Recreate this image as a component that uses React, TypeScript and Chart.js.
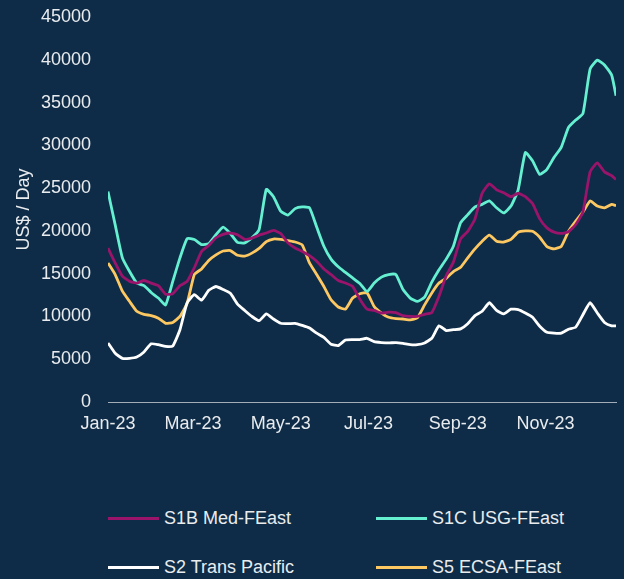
import React, { useEffect, useRef } from "react";
import { Chart, registerables } from "chart.js";

Chart.register(...registerables);

// Days since 1 Jan 2023
const dayOffsets = [
  0, 5, 10, 15, 20, 25, 30, 35, 40, 45, 50, 55, 60, 65, 70, 75, 80, 85, 90, 95,
  100, 105, 110, 115, 120, 125, 130, 135, 140, 145, 150, 155, 160, 165, 170, 175,
  180, 185, 190, 195, 200, 205, 210, 215, 220, 225, 230, 235, 240, 245, 250, 255,
  260, 265, 270, 275, 280, 285, 290, 295, 300, 305, 310, 315, 320, 325, 330, 335,
  340, 345, 350, 353,
];

const s1bMedFEast = [
  18000, 16250, 14700, 14100, 13900, 14200, 13900, 13600, 12600, 12650, 13600, 14100,
  15700, 17600, 18300, 19200, 19600, 19750, 19550, 19000, 19150, 19500, 19750, 20050,
  19700, 18600, 18000, 17600, 17100, 16450, 15550, 14900, 14200, 13900, 13500, 12000,
  10850, 10700, 10400, 10500, 10450, 10100, 10000, 10000, 10250, 10450, 12350, 14750,
  16350, 19050, 19950, 21400, 24400, 25500, 24800, 24450, 24000, 24400, 24000, 23200,
  21400, 20350, 19850, 19700, 19900, 20750, 22200, 26900, 27950, 26900, 26450, 26000,
];

const s1cUsgFEast = [
  24600, 20700, 16850, 15250, 13900, 13600, 12800, 12150, 11350, 14100, 16850, 19100,
  19000, 18400, 18500, 19550, 20450, 19700, 18650, 18600, 19200, 20150, 24850, 24000,
  22300, 21850, 22600, 22800, 22700, 20450, 18200, 16700, 15800, 15150, 14500, 13850,
  12900, 13900, 14600, 14900, 14900, 13150, 12150, 11750, 12250, 14000, 15450, 16700,
  18200, 20950, 21900, 22800, 23100, 23500, 22700, 22100, 22900, 24800, 29150, 28200,
  26600, 27200, 28600, 29800, 32100, 32950, 33700, 38900, 39950, 39400, 38200, 35800,
];

const s2TransPacific = [
  6900, 5700, 5100, 5100, 5250, 5850, 6800, 6700, 6500, 6550, 8450, 11600,
  12550, 11900, 13050, 13500, 13150, 12700, 11450, 10700, 10000, 9500, 10300, 9700,
  9200, 9150, 9200, 8950, 8650, 8050, 7550, 6750, 6600, 7250, 7300, 7300,
  7450, 7050, 6950, 6900, 6950, 6850, 6700, 6700, 6900, 7450, 8900, 8350,
  8450, 8550, 9150, 10100, 10600, 11600, 10700, 10300, 10850, 10800, 10400, 9900,
  8850, 8150, 8050, 8050, 8500, 8750, 10200, 11600, 10400, 9300, 8900, 8900,
];

const s5EcsaFEast = [
  16250, 14900, 12950, 11750, 10600, 10250, 10100, 9800, 9200, 9300, 10000, 11550,
  14900, 15550, 16550, 17200, 17650, 17700, 17150, 17050, 17400, 17950, 18750, 19050,
  19000, 18850, 18700, 18350, 16250, 14900, 13500, 11950, 11100, 10850, 12150, 12650,
  12750, 11150, 10400, 9900, 9750, 9700, 9600, 9850, 11350, 12750, 13900, 14450,
  15250, 15750, 16850, 17900, 18800, 19500, 18800, 18700, 19000, 19850, 20000, 19950,
  19250, 18150, 17900, 18200, 19950, 21150, 22200, 23500, 22900, 22700, 23100, 22950,
];

const tickDays = [0, 59, 120, 181, 243, 304];
const tickLabels = ["Jan-23", "Mar-23", "May-23", "Jul-23", "Sep-23", "Nov-23"];

const seriesNames = ["S1B Med-FEast", "S1C USG-FEast", "S2 Trans Pacific", "S5 ECSA-FEast"];
const seriesColors = ["#9a146c", "#66f0d2", "#ffffff", "#fdc862"];

const BG = "#0e2c47";
const TEXT = "#e9ecef";
const FONT = "'Liberation Sans', Arial, sans-serif";

export default function App() {
  const ref = useRef<HTMLCanvasElement>(null);

  useEffect(() => {
    document.body.style.margin = "0";
    document.body.style.background = BG;
    const canvas = ref.current;
    if (!canvas) return;
    const seriesValues = [s1bMedFEast, s1cUsgFEast, s2TransPacific, s5EcsaFEast];
    const toPoints = (vals: number[]) => dayOffsets.map((d, i) => ({ x: d, y: vals[i] }));
    const font = { family: FONT, size: 18 };
    const chart = new Chart(canvas, {
      type: "line",
      data: {
        datasets: seriesValues.map((vals, i) => ({
          label: seriesNames[i],
          data: toPoints(vals),
          borderColor: seriesColors[i],
          backgroundColor: seriesColors[i],
        })),
      },
      options: {
        responsive: false,
        animation: false,
        layout: { padding: { left: 0, right: 8, top: 17, bottom: 0 } },
        plugins: { legend: { display: false }, tooltip: { enabled: false } },
        elements: {
          point: { radius: 0 },
          line: { borderWidth: 2.8, tension: 0.15 },
        },
        scales: {
          x: {
            type: "linear",
            min: 0,
            max: 353,
            grid: { display: false, drawTicks: false },
            border: { display: true, color: "#a3adb8", width: 1 },
            ticks: {
              color: TEXT,
              font,
              padding: 11,
              autoSkip: false,
              maxRotation: 0,
              callback: (v: any) => {
                const idx = tickDays.indexOf(Number(v));
                return idx >= 0 ? tickLabels[idx] : "";
              },
            },
            afterBuildTicks: (s: any) => {
              s.ticks = tickDays.map((v) => ({ value: v }));
            },
            afterFit: (s: any) => {
              s.height = 40;
              s.paddingLeft = 0;
              s.paddingRight = 0;
            },
          },
          y: {
            min: 0,
            max: 45000,
            ticks: {
              stepSize: 5000,
              color: TEXT,
              font,
              padding: 17,
              callback: (v: any) => String(v),
            },
            grid: { display: false, drawTicks: false },
            border: { display: false },
            title: {
              display: true,
              text: "US$ / Day",
              color: TEXT,
              font,
              padding: { top: 13, bottom: 0 },
            },
            afterFit: (s: any) => {
              s.width = 108;
              s.paddingTop = 0;
              s.paddingBottom = 0;
            },
          },
        },
      } as any,
    });
    return () => chart.destroy();
  }, []);

  const legendPos = [
    { left: 108, top: 518 },
    { left: 376, top: 518 },
    { left: 108, top: 567 },
    { left: 376, top: 567 },
  ];

  return (
    <div style={{ position: "relative", width: 624, height: 579, background: BG, overflow: "hidden" }}>
      <canvas ref={ref} width={624} height={442} style={{ display: "block" }} />
      {seriesNames.map((name, i) => (
        <div
          key={name}
          style={{
            position: "absolute",
            left: legendPos[i].left,
            top: legendPos[i].top - 12,
            height: 24,
            display: "flex",
            alignItems: "center",
            fontFamily: FONT,
            fontSize: 18,
            color: TEXT,
            whiteSpace: "nowrap",
          }}
        >
          <span style={{ display: "inline-block", width: 51, height: 3, background: seriesColors[i], marginRight: 5 }} />
          <span>{name}</span>
        </div>
      ))}
    </div>
  );
}
